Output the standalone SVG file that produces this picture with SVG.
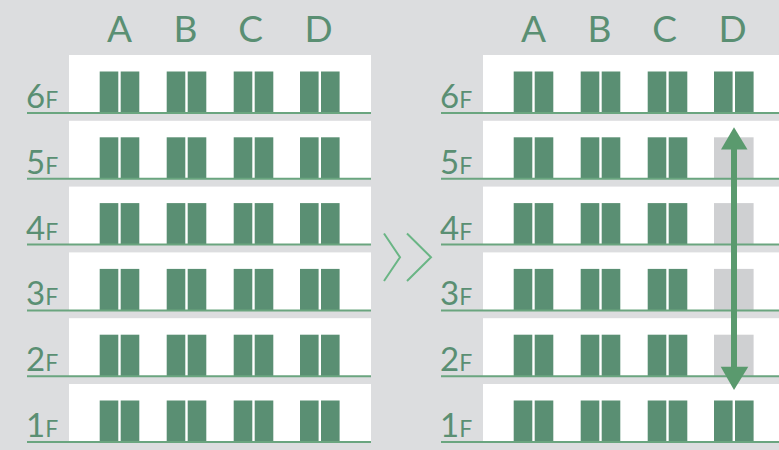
<svg xmlns="http://www.w3.org/2000/svg" width="779" height="450" viewBox="0 0 779 450">
<defs>
<style>
.bg{fill:#dcdddf}
.wall{fill:#ffffff}
.floor{stroke:#6aa57f;stroke-width:2}
.door{fill:#5a8f73}
.empty{fill:#cfd0d2}
.col{font-family:Lato,"Open Sans",sans-serif;font-size:37px;fill:#5a8f73;text-anchor:middle}
.lbl{font-family:Lato,"Open Sans",sans-serif;fill:#5a8f73}
.big{font-size:33px}
.small{font-size:23px}
.chev{fill:none;stroke:#6ab585;stroke-width:2}
.arrow{stroke:#5a9a6e;stroke-width:6}
.head{fill:#5a9a6e}
</style>
<g id="pair">
<rect class="door" x="0" y="0" width="18.6" height="41.5"/>
<rect class="door" x="21" y="0" width="18.6" height="41.5"/>
</g>
<g id="row">
<use href="#pair" x="99.7" y="0"/>
<use href="#pair" x="166.7" y="0"/>
<use href="#pair" x="233.7" y="0"/>
<use href="#pair" x="300" y="0"/>
</g>
</defs>
<rect class="bg" x="0" y="0" width="779" height="450"/>

<g id="left-building">
<g class="lbl-cols">
<text class="col" x="119.5" y="42">A</text>
<text class="col" x="185.5" y="42">B</text>
<text class="col" x="250.5" y="42">C</text>
<text class="col" x="318.5" y="42">D</text>
</g>
<g id="L6F"><rect class="wall" x="69" y="55" width="302" height="58"/><use href="#row" y="71.5"/><line class="floor" x1="27" y1="113" x2="371" y2="113"/><text class="lbl" x="26" y="108"><tspan class="big">6</tspan><tspan class="small">F</tspan></text></g>
<g id="L5F"><rect class="wall" x="69" y="120.8" width="302" height="58"/><use href="#row" y="137.3"/><line class="floor" x1="27" y1="178.8" x2="371" y2="178.8"/><text class="lbl" x="26" y="173.8"><tspan class="big">5</tspan><tspan class="small">F</tspan></text></g>
<g id="L4F"><rect class="wall" x="69" y="186.6" width="302" height="58"/><use href="#row" y="203.1"/><line class="floor" x1="27" y1="244.6" x2="371" y2="244.6"/><text class="lbl" x="26" y="239.6"><tspan class="big">4</tspan><tspan class="small">F</tspan></text></g>
<g id="L3F"><rect class="wall" x="69" y="252.4" width="302" height="58"/><use href="#row" y="268.9"/><line class="floor" x1="27" y1="310.4" x2="371" y2="310.4"/><text class="lbl" x="26" y="305.4"><tspan class="big">3</tspan><tspan class="small">F</tspan></text></g>
<g id="L2F"><rect class="wall" x="69" y="318.2" width="302" height="58"/><use href="#row" y="334.7"/><line class="floor" x1="27" y1="376.2" x2="371" y2="376.2"/><text class="lbl" x="26" y="371.2"><tspan class="big">2</tspan><tspan class="small">F</tspan></text></g>
<g id="L1F"><rect class="wall" x="69" y="384" width="302" height="58"/><use href="#row" y="400.5"/><line class="floor" x1="27" y1="442" x2="371" y2="442"/><text class="lbl" x="26" y="437"><tspan class="big">1</tspan><tspan class="small">F</tspan></text></g>
</g>

<g id="chevrons">
<polyline class="chev" points="384,233.5 400,257.3 384,281"/>
<polyline class="chev" points="407,233.5 431,257.3 407,281"/>
</g>

<g id="right-building" transform="translate(414,0)">
<text class="col" x="119.5" y="42">A</text>
<text class="col" x="185.5" y="42">B</text>
<text class="col" x="250.5" y="42">C</text>
<text class="col" x="318.5" y="42">D</text>
<g id="R6F"><rect class="wall" x="69" y="55" width="302" height="58"/><use href="#row" y="71.5"/><line class="floor" x1="27" y1="113" x2="371" y2="113"/><text class="lbl" x="26" y="108"><tspan class="big">6</tspan><tspan class="small">F</tspan></text></g>
<g id="R5F"><rect class="wall" x="69" y="120.8" width="302" height="58"/><use href="#pair" x="99.7" y="137.3"/><use href="#pair" x="166.7" y="137.3"/><use href="#pair" x="233.7" y="137.3"/><rect class="empty" x="300" y="137.3" width="39.6" height="41.5"/><line class="floor" x1="27" y1="178.8" x2="371" y2="178.8"/><text class="lbl" x="26" y="173.8"><tspan class="big">5</tspan><tspan class="small">F</tspan></text></g>
<g id="R4F"><rect class="wall" x="69" y="186.6" width="302" height="58"/><use href="#pair" x="99.7" y="203.1"/><use href="#pair" x="166.7" y="203.1"/><use href="#pair" x="233.7" y="203.1"/><rect class="empty" x="300" y="203.1" width="39.6" height="41.5"/><line class="floor" x1="27" y1="244.6" x2="371" y2="244.6"/><text class="lbl" x="26" y="239.6"><tspan class="big">4</tspan><tspan class="small">F</tspan></text></g>
<g id="R3F"><rect class="wall" x="69" y="252.4" width="302" height="58"/><use href="#pair" x="99.7" y="268.9"/><use href="#pair" x="166.7" y="268.9"/><use href="#pair" x="233.7" y="268.9"/><rect class="empty" x="300" y="268.9" width="39.6" height="41.5"/><line class="floor" x1="27" y1="310.4" x2="371" y2="310.4"/><text class="lbl" x="26" y="305.4"><tspan class="big">3</tspan><tspan class="small">F</tspan></text></g>
<g id="R2F"><rect class="wall" x="69" y="318.2" width="302" height="58"/><use href="#pair" x="99.7" y="334.7"/><use href="#pair" x="166.7" y="334.7"/><use href="#pair" x="233.7" y="334.7"/><rect class="empty" x="300" y="334.7" width="39.6" height="41.5"/><line class="floor" x1="27" y1="376.2" x2="371" y2="376.2"/><text class="lbl" x="26" y="371.2"><tspan class="big">2</tspan><tspan class="small">F</tspan></text></g>
<g id="R1F"><rect class="wall" x="69" y="384" width="302" height="58"/><use href="#row" y="400.5"/><line class="floor" x1="27" y1="442" x2="371" y2="442"/><text class="lbl" x="26" y="437"><tspan class="big">1</tspan><tspan class="small">F</tspan></text></g>
</g>

<g id="connectors">
<line class="arrow" x1="734" y1="145" x2="734" y2="372"/>
<polygon class="head" points="734,127.3 721,149.5 747.5,149.5"/>
<polygon class="head" points="734,390 720.7,366.7 748.3,366.7"/>
</g>
</svg>
